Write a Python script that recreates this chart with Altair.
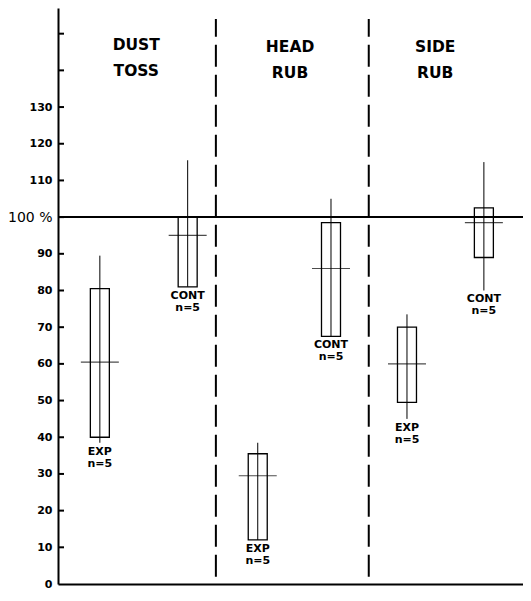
import altair as alt
import pandas as pd

# ---- data ----
groups = ["DUST TOSS", "DUST TOSS", "HEAD RUB", "HEAD RUB", "SIDE RUB", "SIDE RUB"]
kinds = ["EXP", "CONT", "EXP", "CONT", "EXP", "CONT"]
n_obs = [5, 5, 5, 5, 5, 5]
pos = [0.81, 2.74, 4.28, 5.89, 7.56, 9.25]
box_low = [40, 81, 12, 67.5, 49.5, 89]
box_high = [80.5, 100, 35.5, 98.5, 70, 102.5]
mean_val = [60.5, 95, 29.5, 86, 60, 98.5]
whisk_low = [38.5, 81, 12, 67.5, 45, 80]
whisk_high = [89.5, 115.5, 38.5, 105, 73.5, 115]

header_names = ["DUST\nTOSS", "HEAD\nRUB", "SIDE\nRUB"]
header_pos = [1.61, 4.99, 8.18]
header_y = [147, 146.5, 146.5]

divider_pos = [3.36, 6.72]
divider_y = [2, 154]

y_tick_values = list(range(0, 151, 10))
reference_level = [100]

df = pd.DataFrame({
    "group": groups, "kind": kinds, "n": n_obs, "pos": pos,
    "lo": box_low, "hi": box_high, "mean": mean_val,
    "wlo": whisk_low, "whi": whisk_high,
})
hdr = pd.DataFrame({"name": header_names, "pos": header_pos, "y": header_y})
div = pd.DataFrame({"pos": divider_pos, "y": [divider_y[0]] * 2, "y2": [divider_y[1]] * 2})
ticks = pd.DataFrame({"v": [v for v in y_tick_values if v > 0]})
ref = pd.DataFrame({"y": reference_level})

xs = alt.Scale(domain=[0, 10], nice=False, zero=False)
ys = alt.Scale(domain=[0, 157], nice=False, zero=False)

yaxis = alt.Axis(
    values=y_tick_values,
    labelExpr="datum.value == 100 ? '100 %' : (datum.value > 130 ? '' : datum.label)",
    ticks=False, grid=False, title=None, domainWidth=2, domainColor="black",
    labelOverlap=False, labelFlush=False, labelBound=False,
    labelPadding=6, labelColor="black", labelFont="DejaVu Sans",
    labelFontSize={"condition": {"test": "datum.value == 100", "value": 14}, "value": 11},
    labelFontWeight={"condition": {"test": "datum.value == 100", "value": "normal"}, "value": "bold"},
)
xaxis = alt.Axis(labels=False, ticks=False, grid=False, title=None,
                 domainWidth=2, domainColor="black")


def X(field):
    return alt.X(field, type="quantitative", scale=xs, axis=xaxis)


def Y(field):
    return alt.Y(field, type="quantitative", scale=ys, axis=yaxis)


base = alt.Chart(df)

boxes = base.mark_bar(size=19, fill="white", fillOpacity=0, stroke="black", strokeWidth=1.3).encode(
    x=X("pos"), y=Y("lo"), y2="hi:Q",
)
whiskers = base.mark_rule(color="black", strokeWidth=1).encode(
    x=X("pos"), y=Y("wlo"), y2="whi:Q"
)
means = base.mark_tick(orient="horizontal", size=38, thickness=1.2, color="black").encode(
    x=X("pos"), y=Y("mean")
)
labels = base.transform_calculate(
    lab="datum.kind + '\\n' + 'n=' + datum.n"
).mark_text(lineBreak="\n", baseline="top", dy=3, fontSize=11, fontWeight="bold",
            font="DejaVu Sans", color="black", lineHeight=12).encode(
    x=X("pos"), y=Y("wlo"), text="lab:N"
)
headers = alt.Chart(hdr).mark_text(lineBreak="\n", fontSize=15.5, fontWeight="bold",
                                   font="DejaVu Sans", color="black", lineHeight=26,
                                   baseline="middle").encode(
    x=X("pos"), y=Y("y"), text="name:N"
)
dividers = alt.Chart(div).mark_rule(color="black", strokeWidth=2, strokeDash=[22, 8]).encode(
    x=X("pos"), y=Y("y"), y2="y2:Q"
)
refline = alt.Chart(ref).mark_rule(color="black", strokeWidth=2).encode(
    y=Y("y"), x=alt.value(0), x2=alt.value(465)
)
inticks = alt.Chart(ticks).mark_rule(color="black", strokeWidth=2).encode(
    y=Y("v"), x=alt.value(0), x2=alt.value(6)
)

chart = alt.layer(boxes, whiskers, means, labels, headers, dividers, refline, inticks).properties(
    width=465, height=576,
    autosize=alt.AutoSizeParams(type="none"),
    padding={"left": 50, "top": 0, "right": 0, "bottom": 8},
    background="white",
).configure_view(stroke=None).configure_axis(labelOverlap=False)

chart.save("out.html", embed_options={"renderer": "svg", "actions": False})
